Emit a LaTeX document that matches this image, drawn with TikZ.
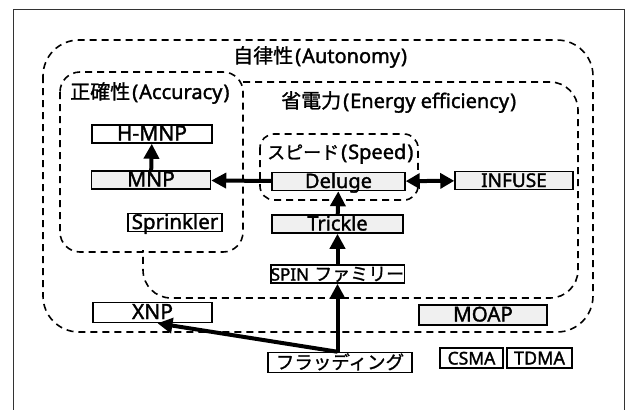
\documentclass[tikz,border=0pt]{standalone}
\usepackage{fontspec}
\setmainfont{Noto Sans}[FakeBold=1.6]
\newfontfamily\jp{Noto Sans CJK JP}[FakeBold=1.2]
\usetikzlibrary{arrows.meta,calc}
\newcommand{\fsz}[1]{\fontsize{#1}{#1}\selectfont}
\begin{document}
\begin{tikzpicture}[x=1pt,y=-1pt,
  region/.style={draw, line width=1.6pt, dash pattern=on 7pt off 5pt},
  box/.style={draw, line width=1.5pt, inner sep=0pt, minimum height=18pt,
    text height=15pt, text depth=2pt, font=\fsz{20}},
  speck/.style={fill=black!6},
  lab/.style={anchor=base west, inner sep=0pt, font=\fsz{20}},
  arr/.style={line width=4pt, -{Triangle[length=15pt,width=15pt]}},
  darr/.style={line width=4pt, {Triangle[length=14pt,width=15pt]}-{Triangle[length=14pt,width=15pt]}},
]
\useasboundingbox (0,0) rectangle (633,410);
% frame
\draw[line width=1pt, black!80] (13,412) -- (13,9) -- (624,9) -- (624,412);

% regions
\draw[region, rounded corners=36pt] (43,40) rectangle (593,332);
\draw[region, rounded corners=20pt] (60,72) rectangle (243,252);
\draw[region, rounded corners=28pt] (243,82) -- (578,82) -- (578,298) -- (143,298) -- (143,250);
\draw[region, rounded corners=14pt] (260,134) rectangle (418,200);

% region labels
\node[lab] (lauto) at (233,63) {{\jp 自律性}\kern2pt(\kern1pt Autonomy\kern1pt)};
\node[lab] (lacc) at (70,99) {{\jp 正確性}\kern2pt(\kern1pt Accuracy\kern1pt)};
\node[lab] (lene) at (281,108) {{\jp 省電力}\kern2pt(\kern1pt Energy efficiency\kern1pt)};
\node[lab] (lspd) at (267,159) {{\jp\fsz{18}スピード}\kern2pt(\kern1pt Speed\kern1pt)};

% boxes
\node[box, minimum width=120pt, font=\fsz{21}] (hmnp) at (152,134) {H-MNP};
\node[box, speck, minimum width=119pt, font=\fsz{21}] (mnp) at (151,180) {MNP};
\node[box, speck, minimum width=133pt] (del) at (338.5,181.5) {Deluge};
\node[box, speck, minimum width=118pt, font=\fsz{19}] (inf) at (514,180.5) {INFUSE};
\node[box, speck, minimum width=131pt] (tri) at (337.5,224) {Trickle};
\node[box, minimum width=131pt] (spin) at (337.5,274) {{\fsz{17}SPIN} {\jp\fsz{18}ファミリー}};
\node[box, minimum width=94pt, font=\fsz{20.5}] (spr) at (175,222.5) {Sprinkler};
\node[box, minimum width=119pt, minimum height=20pt, font=\fsz{21}] (xnp) at (152.5,312.5) {XNP};
\node[box, minimum width=144pt, minimum height=20pt] (fl) at (340,362.5) {{\jp\fsz{18.5}フラッディング}};
\node[box, speck, minimum width=128pt, minimum height=20pt, font=\fsz{20.5}] (moap) at (483,315) {MOAP};
\node[box, minimum width=63pt, minimum height=20pt, font=\fsz{17.5}] (csma) at (471.5,358) {CSMA};
\node[box, minimum width=65pt, minimum height=20pt, font=\fsz{18}] (tdma) at (539.5,358) {TDMA};

% arrows
\draw[arr] (mnp) -- (hmnp);
\draw[arr] (del) -- (mnp);
\draw[darr] (del) -- (inf);
\draw[arr] (tri) -- (del);
\draw[arr] (spin) -- (tri);
\draw[arr] (spin.south |- fl.north) -- (spin.south);
\draw[arr] (spin.south |- fl.north) -- ($(xnp.south)+(5,0)$);
\end{tikzpicture}
\end{document}
